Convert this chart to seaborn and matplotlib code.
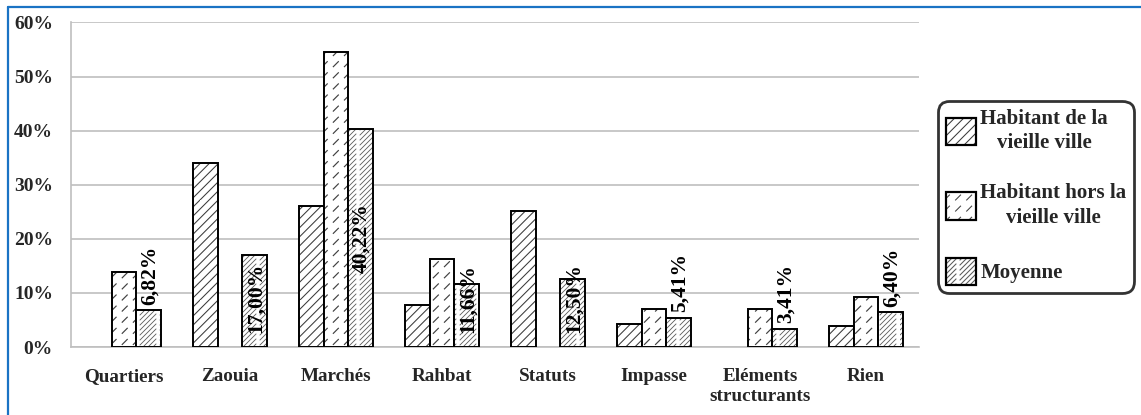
import warnings
import numpy as np
import pandas as pd
import matplotlib
matplotlib.use("Agg")
import matplotlib.pyplot as plt
import matplotlib.hatch as mhatch
from matplotlib.path import Path
from matplotlib.patches import Patch
from matplotlib.lines import Line2D
from matplotlib.colors import to_rgba
import seaborn as sns

warnings.filterwarnings("ignore")

# ---- data -------------------------------------------------------------
categories = ["Quartiers", "Zaouia", "Marchés", "Rahbat", "Statuts",
              "Impasse", "Eléments\nstructurants", "Rien"]
series = ["Habitant de la\nvieille ville", "Habitant hors la\nvieille ville", "Moyenne"]
habitant_vieille_ville = [np.nan, 34.1, 26.1, 7.7, 25.2, 4.2, np.nan, 3.9]
habitant_hors_vieille_ville = [13.9, np.nan, 54.6, 16.2, np.nan, 7.0, 7.1, 9.3]
moyenne = [6.82, 17.00, 40.22, 11.66, 12.50, 5.41, 3.41, 6.40]
y_ticks = [0, 10, 20, 30, 40, 50, 60]

# where each value label of the "Moyenne" bar sits
label_modes = ["out", "in", "mid", "in", "in", "out", "out", "out"]


# ---- custom diagonal hatches (solid, dashed lattice, dense) ------------
HATCH_SPECS = {
    # char: (lines per cell, dashes per cell, dash fraction)
    "a": (11, 1, 1.0),
    "b": (9, 9, 0.45),
    "c": (20, 5, 0.8),
}


class DiagonalDashHatch(mhatch.HatchPatternBase):
    def __init__(self, hatch, density):
        segs = []
        for ch, (n, k, frac) in HATCH_SPECS.items():
            if ch not in hatch:
                continue
            for i in range(-n, n):
                c = i / n
                for j in range(k):
                    x0 = j / k
                    x1 = (j + frac) / k
                    segs.append((x0, x0 + c))
                    segs.append((x1, x1 + c))
        self.segs = np.array(segs, dtype=float).reshape(-1, 2)
        self.num_vertices = len(self.segs)

    def set_vertices_and_codes(self, vertices, codes):
        vertices[:] = self.segs
        codes[0::2] = Path.MOVETO
        codes[1::2] = Path.LINETO


mhatch._hatch_types.append(DiagonalDashHatch)

hatches = ["a", "b", "c"]
hatch_colors = ["#3a3a3a", "#404040", "#5a5a5a"]
hatch_widths = [0.75, 0.85, 0.6]

# ---- figure -----------------------------------------------------------
sns.set_theme(style="white")
plt.rcParams["font.family"] = ["Liberation Serif", "DejaVu Serif"]
plt.rcParams["font.weight"] = "bold"
plt.rcParams["hatch.linewidth"] = 0.75

fig = plt.figure(figsize=(11.41, 4.15), dpi=100)
ax = fig.add_axes([71 / 1141, 1 - 347 / 415, (919 - 71) / 1141, (347 - 22.5) / 415])

df = pd.DataFrame({
    "categorie": categories * 3,
    "serie": [series[0]] * 8 + [series[1]] * 8 + [series[2]] * 8,
    "valeur": habitant_vieille_ville + habitant_hors_vieille_ville + moyenne,
})

sns.barplot(data=df, x="categorie", y="valeur", hue="serie",
            order=categories, hue_order=series,
            palette=["white"] * 3, saturation=1, width=0.69,
            edgecolor="black", linewidth=1.4, errorbar=None,
            legend=False, ax=ax, zorder=3)


def style_patch(p, idx):
    p.set_hatch(hatches[idx])
    if hasattr(p, "set_hatch_linewidth"):
        p.set_hatch_linewidth(hatch_widths[idx])
    p._hatch_color = to_rgba(hatch_colors[idx])


for idx, cont in enumerate(ax.containers):
    for p in cont.patches:
        style_patch(p, idx)

# value labels on the "Moyenne" bars
label_kw = dict(rotation=90, ha="center", fontsize=15.5, fontweight="bold",
                color="black", zorder=5, textcoords="offset points")
for p in ax.containers[2].patches:
    cx = p.get_x() + p.get_width() / 2
    ci = int(round(cx))
    v = moyenne[ci]
    txt = f"{v:.2f}%".replace(".", ",")
    mode = label_modes[ci]
    if mode == "out":
        ax.annotate(txt, (cx, v), xytext=(1, 4), va="bottom", **label_kw)
    elif mode == "in":
        ax.annotate(txt, (cx, 0), xytext=(1, 10), va="bottom", **label_kw)
    else:
        ax.annotate(txt, (cx, v / 2), xytext=(1, 0), va="center", **label_kw)

# axes styling
ax.set_ylim(0, 60)
ax.set_xlim(-0.5, len(categories) - 0.5)
ax.set_yticks(y_ticks)
ax.set_yticklabels([f"{t}%" for t in y_ticks], fontsize=14, fontweight="bold")
ax.set_xticks(range(len(categories)))
ax.set_xticklabels(categories, fontsize=13.8, fontweight="bold", linespacing=1.25)
ax.tick_params(axis="y", length=0, pad=13)
ax.tick_params(axis="x", length=0, pad=15)
ax.set_xlabel("")
ax.set_ylabel("")
ax.yaxis.grid(True, color="#bfbfbf", linewidth=1.2, zorder=0)
ax.set_axisbelow(True)
for side in ["top", "right"]:
    ax.spines[side].set_visible(False)
for side in ["left", "bottom"]:
    ax.spines[side].set_color("#bfbfbf")
    ax.spines[side].set_linewidth(1.2)
    ax.spines[side].set_zorder(1)

# legend
handles = []
for idx, name in enumerate(series):
    h = Patch(facecolor="white", edgecolor="black", linewidth=1.6, label=name)
    style_patch(h, idx)
    handles.append(h)
leg = fig.legend(handles=handles, loc="upper left",
                 bbox_to_anchor=(938 / 1141, 1 - 101 / 415),
                 prop={"family": ["Liberation Serif"], "weight": "bold", "size": 15},
                 frameon=True, fancybox=True, handlelength=1.45, handleheight=1.65,
                 handletextpad=0.22, labelspacing=1.45, borderpad=0.36,
                 borderaxespad=0)
for t in leg.get_texts():
    t.set_multialignment("center")
    t.set_linespacing(1.3)
frame = leg.get_frame()
frame.set_edgecolor("black")
frame.set_linewidth(2)
frame.set_boxstyle("round,pad=0,rounding_size=0.55")

# thin blue border on the top and left of the figure
blue = "#1a73c4"
fig.add_artist(Line2D([8 / 1141, 1.0], [1 - 7 / 415, 1 - 7 / 415],
                      transform=fig.transFigure, color=blue, linewidth=1.6))
fig.add_artist(Line2D([8 / 1141, 8 / 1141], [0.0, 1 - 7 / 415],
                      transform=fig.transFigure, color=blue, linewidth=1.6))

fig.savefig("out.png", dpi=100)
